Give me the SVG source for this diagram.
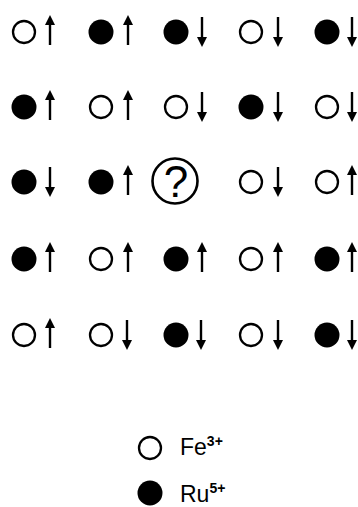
<svg xmlns="http://www.w3.org/2000/svg" xmlns:xlink="http://www.w3.org/1999/xlink" width="358" height="507" viewBox="0 0 358 507">
<style>
.o{fill:#fff;stroke:#000;stroke-width:2.3}
.f{fill:#000}
.sh{stroke:#000;stroke-width:2.4;fill:none}
.t{font-family:"Liberation Sans",Arial,sans-serif;fill:#000}
</style>
<defs>
<g id="up"><line class="sh" x1="0" y1="-9" x2="0" y2="13"/><polygon class="f" points="0,-17 -5,-7 5,-7"/></g>
<g id="dn"><line class="sh" x1="0" y1="-15" x2="0" y2="7"/><polygon class="f" points="0,15 -5,5 5,5"/></g>
<circle id="O" class="o" r="11"/>
<circle id="F" class="f" r="12.5"/>
</defs>
<rect width="358" height="507" fill="#fff"/>
<g id="r1">
<g id="n11"><use xlink:href="#O" x="24" y="32"/><use xlink:href="#up" x="50" y="32"/></g>
<g id="n12"><use xlink:href="#F" x="101" y="32"/><use xlink:href="#up" x="128" y="32"/></g>
<g id="n13"><use xlink:href="#F" x="176" y="32"/><use xlink:href="#dn" x="202" y="32"/></g>
<g id="n14"><use xlink:href="#O" x="251" y="32"/><use xlink:href="#dn" x="278" y="32"/></g>
<g id="n15"><use xlink:href="#F" x="327" y="32"/><use xlink:href="#dn" x="352" y="32"/></g>
</g>
<g id="r2">
<g id="n21"><use xlink:href="#F" x="24" y="107"/><use xlink:href="#up" x="50" y="107"/></g>
<g id="n22"><use xlink:href="#O" x="101" y="107"/><use xlink:href="#up" x="128" y="107"/></g>
<g id="n23"><use xlink:href="#O" x="176" y="107"/><use xlink:href="#dn" x="202" y="107"/></g>
<g id="n24"><use xlink:href="#F" x="251" y="107"/><use xlink:href="#dn" x="278" y="107"/></g>
<g id="n25"><use xlink:href="#O" x="327" y="107"/><use xlink:href="#dn" x="352" y="107"/></g>
</g>
<g id="r3">
<g id="n31"><use xlink:href="#F" x="24" y="182"/><use xlink:href="#dn" x="50" y="182"/></g>
<g id="n32"><use xlink:href="#F" x="101" y="182"/><use xlink:href="#up" x="128" y="182"/></g>
<g id="n33"><circle cx="175" cy="181" r="22.5" fill="#fff" stroke="#000" stroke-width="2.6"/><text class="t" x="176" y="197" font-size="44" text-anchor="middle">?</text></g>
<g id="n34"><use xlink:href="#O" x="251" y="182"/><use xlink:href="#dn" x="278" y="182"/></g>
<g id="n35"><use xlink:href="#O" x="327" y="182"/><use xlink:href="#up" x="352" y="182"/></g>
</g>
<g id="r4">
<g id="n41"><use xlink:href="#F" x="24" y="259"/><use xlink:href="#up" x="50" y="259"/></g>
<g id="n42"><use xlink:href="#O" x="101" y="259"/><use xlink:href="#up" x="128" y="259"/></g>
<g id="n43"><use xlink:href="#F" x="176" y="259"/><use xlink:href="#up" x="202" y="259"/></g>
<g id="n44"><use xlink:href="#O" x="251" y="259"/><use xlink:href="#up" x="278" y="259"/></g>
<g id="n45"><use xlink:href="#F" x="327" y="259"/><use xlink:href="#up" x="352" y="259"/></g>
</g>
<g id="r5">
<g id="n51"><use xlink:href="#O" x="24" y="335"/><use xlink:href="#up" x="50" y="335"/></g>
<g id="n52"><use xlink:href="#O" x="101" y="335"/><use xlink:href="#dn" x="127" y="335"/></g>
<g id="n53"><use xlink:href="#F" x="176" y="335"/><use xlink:href="#dn" x="201" y="335"/></g>
<g id="n54"><use xlink:href="#O" x="251" y="335"/><use xlink:href="#dn" x="278" y="335"/></g>
<g id="n55"><use xlink:href="#F" x="327" y="335"/><use xlink:href="#dn" x="352" y="335"/></g>
</g>
<g id="connectors"></g>
<g id="legend">
<g id="leg-fe"><use xlink:href="#O" x="150" y="448"/><text class="t" x="180" y="455" font-size="23">Fe<tspan font-size="14" font-weight="bold" dy="-9">3+</tspan></text></g>
<g id="leg-ru"><use xlink:href="#F" x="150" y="493"/><text class="t" x="180" y="502" font-size="23">Ru<tspan font-size="14" font-weight="bold" dy="-9">5+</tspan></text></g>
</g>
</svg>
